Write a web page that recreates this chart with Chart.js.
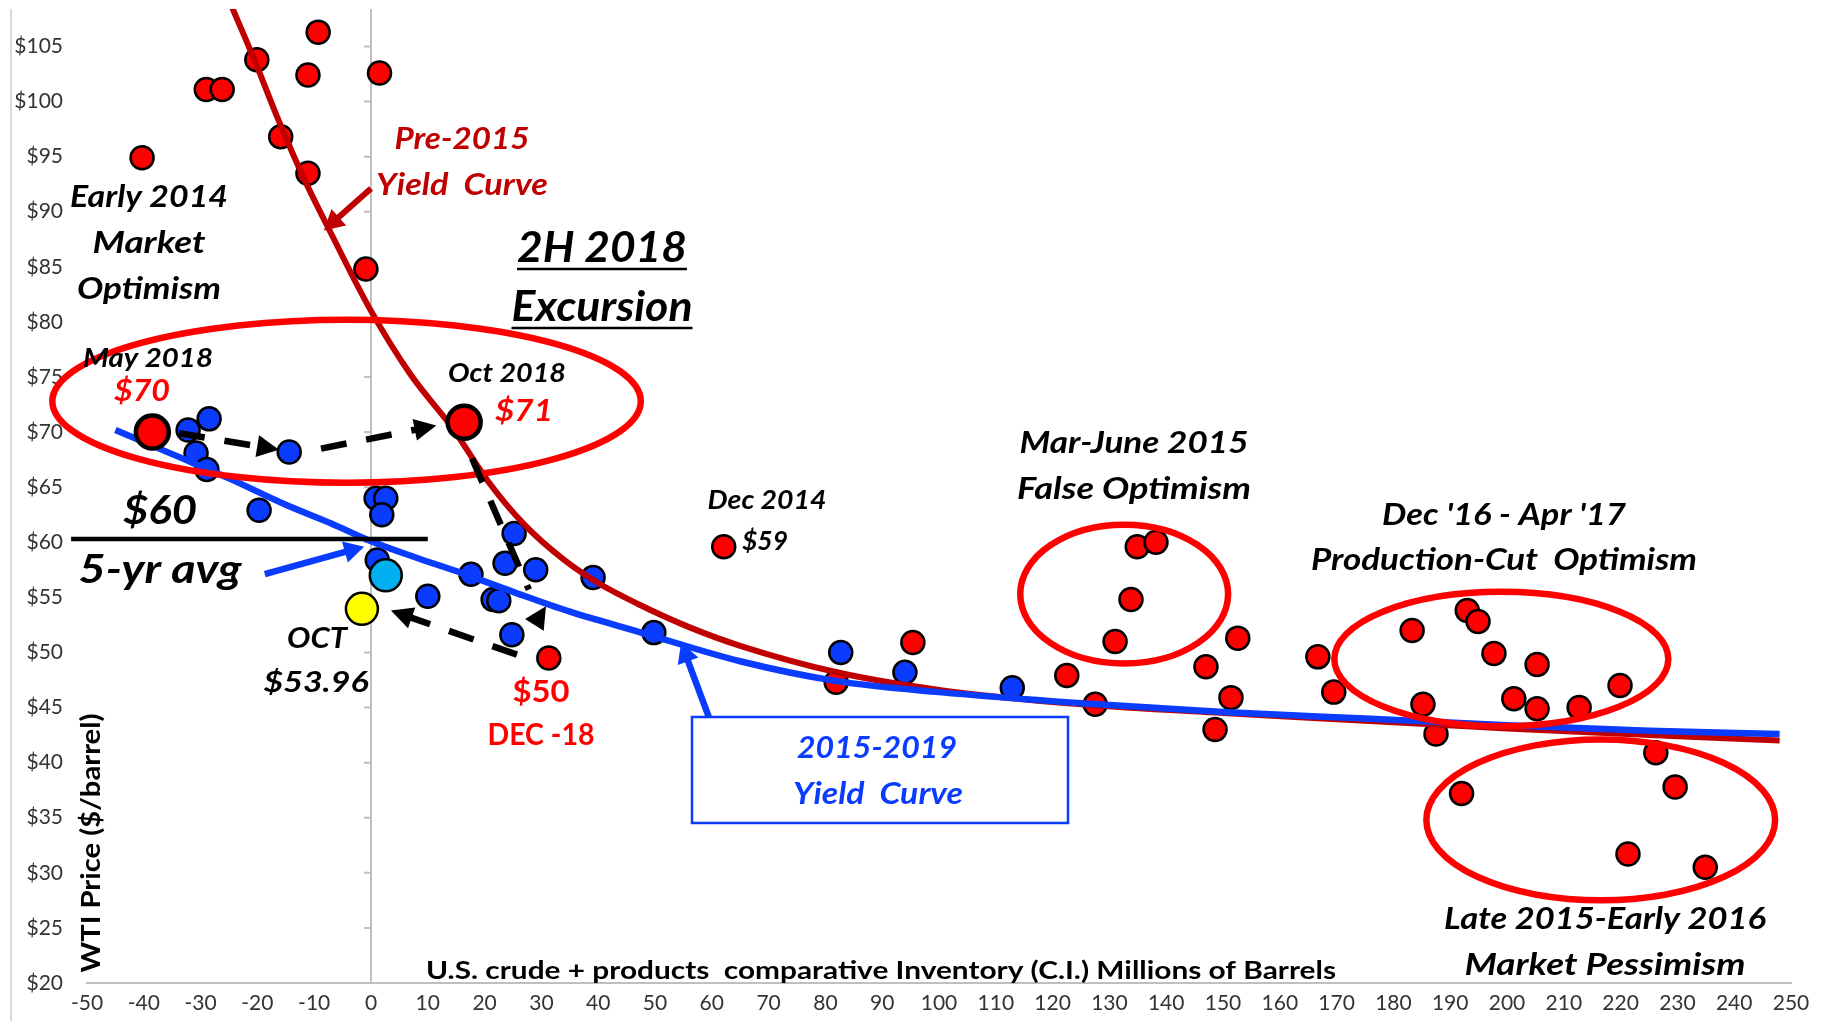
<!DOCTYPE html>
<html><head><meta charset="utf-8">
<script src="https://cdn.jsdelivr.net/npm/chart.js@4.4.1/dist/chart.umd.min.js"></script>
<style>html,body{margin:0;padding:0;background:#fff;overflow:hidden}#wrap{width:1822px;height:1021px;position:relative}</style>
</head><body><div id="wrap"><canvas id="c"></canvas></div>
<script>
// ---------- DATA ----------
const xTickVals = [-50,-40,-30,-20,-10,0,10,20,30,40,50,60,70,80,90,100,110,120,130,140,150,160,170,180,190,200,210,220,230,240,250];
const yTickVals = [20,25,30,35,40,45,50,55,60,65,70,75,80,85,90,95,100,105];

// red points (pre-2015 & 2015-2017 monthly)
const redX = [-40.3,-29,-26.2,-20.1,-15.9,-11.1,-9.3,-11.1,1.5,-0.9,31.3,62.1,81.9,95.4,122.5,127.5,131,133.8,134.9,138.2,147,148.6,151.4,152.6,166.7,169.5,183.3,185.2,187.5,193,194.9,197.7,201.2,205.3,205.3,212.7,219.9,192,226.2,229.6,221.3,234.9];
const redY = [94.9,101.1,101.1,103.8,96.8,102.4,106.3,93.5,102.6,84.8,49.5,59.6,47.3,50.9,47.9,45.3,51,54.8,59.6,60,48.7,43,45.9,51.3,49.6,46.4,52,45.3,42.6,53.8,52.8,49.9,45.8,48.9,44.9,45,47,37.2,40.9,37.8,31.7,30.5];

// blue points (2018-2019)
const blueX = [-32.2,-28.5,-30.8,-28.9,-14.4,-19.7,0.9,2.6,1.9,1.1,10,17.6,23.6,29,25.2,21.5,22.5,24.8,39.1,49.8,82.7,94,112.9];
const blueY = [70.2,71.2,68.1,66.6,68.2,62.9,64.0,64.0,62.5,58.4,55.1,57.1,58.1,57.5,60.8,54.8,54.7,51.6,56.8,51.8,50.0,48.2,46.8];

// highlighted points
const keyX = [-38.5,16.4];          // May 2018, Oct 2018
const keyY = [70.0,70.9];
const cyanX = [2.6];  const cyanY = [57.0];
const octX = [-1.6];  const octY = [53.96];

// yield curves
const pre2015X = [-24.5,-20.7,-16.2,-11.7,-7,0,7,14.3,20.8,27,34,40,47,56,65,82,100,125,150,175,200,225,248];
const pre2015Y = [108.6,104.0,98.2,92.9,88.0,81.0,75.2,70.4,65.4,61.6,58.4,56.3,54.4,52.3,50.6,48.2,46.6,45.3,44.5,43.8,43.1,42.5,42.0];
const yc1519X = [-45,-35,-25,-15,-7,0,8,16,25,35,47,65,82,100,125,150,175,200,225,248];
const yc1519Y = [70.2,68.0,65.8,63.4,61.7,60.1,58.6,57.2,55.5,53.7,51.9,49.2,47.4,46.4,45.4,44.6,44.0,43.4,42.9,42.6];

// ---------- HELPERS ----------
const pts = (xs, ys) => xs.map((x, i) => ({x, y: ys[i]}));
const FONT = 'Lato, "Open Sans", sans-serif';

function txt(ctx, s, cx, cy, size, w, color, o = {}) {
  const style = o.italic === false ? 'normal' : 'italic';
  ctx.save();
  ctx.font = `${style} bold ${size}px ${FONT}`;
  ctx.fillStyle = color;
  ctx.textAlign = 'center';
  ctx.textBaseline = 'middle';
  const nat = ctx.measureText(s).width;
  const sx = w / nat;
  ctx.translate(cx, cy);
  if (o.rot) ctx.rotate(o.rot);
  ctx.scale(sx, 1);
  ctx.fillText(s, 0, 0);
  ctx.restore();
  if (o.underline) {
    ctx.save();
    ctx.strokeStyle = color; ctx.lineWidth = 2.5;
    ctx.beginPath(); ctx.moveTo(cx - w / 2, cy + size * 0.5); ctx.lineTo(cx + w / 2, cy + size * 0.5); ctx.stroke();
    ctx.restore();
  }
}

function head(ctx, tx, ty, fx, fy, len, wid, color) {
  const ang = Math.atan2(ty - fy, tx - fx);
  ctx.save();
  ctx.fillStyle = color;
  ctx.translate(tx, ty); ctx.rotate(ang);
  ctx.beginPath(); ctx.moveTo(0, 0); ctx.lineTo(-len, -wid / 2); ctx.lineTo(-len, wid / 2); ctx.closePath(); ctx.fill();
  ctx.restore();
}

function arrow(ctx, fx, fy, tx, ty, color, lw, dash, hlen, hwid) {
  const ang = Math.atan2(ty - fy, tx - fx);
  const ex = hlen ? tx - Math.cos(ang) * hlen * 0.8 : tx;
  const ey = hlen ? ty - Math.sin(ang) * hlen * 0.8 : ty;
  ctx.save();
  ctx.strokeStyle = color; ctx.lineWidth = lw; ctx.setLineDash(dash || []);
  ctx.beginPath(); ctx.moveTo(fx, fy); ctx.lineTo(ex, ey); ctx.stroke();
  ctx.restore();
  if (hlen) head(ctx, tx, ty, fx, fy, hlen, hwid, color);
}

const annot = {
  id: 'annot',
  beforeDatasetsDraw(chart) {
    const {ctx, scales: {x, y}, chartArea: a} = chart;
    ctx.save();
    ctx.strokeStyle = '#D9D9D9'; ctx.lineWidth = 2;
    ctx.beginPath(); ctx.moveTo(11, a.top); ctx.lineTo(11, chart.height); ctx.stroke();
    const x0 = x.getPixelForValue(0);
    ctx.strokeStyle = '#BFBFBF'; ctx.lineWidth = 2;
    ctx.beginPath(); ctx.moveTo(x0, a.top); ctx.lineTo(x0, a.bottom);
    yTickVals.forEach(v => { const yy = y.getPixelForValue(v); ctx.moveTo(x0 - 7, yy); ctx.lineTo(x0, yy); });
    ctx.stroke();
    ctx.restore();
  },
  afterDatasetsDraw(chart) {
    const {ctx, scales: {x, y}} = chart;
    const X = v => x.getPixelForValue(v), Y = v => y.getPixelForValue(v);
    // ellipses
    const ell = (cx, cy, rx, ry) => {
      ctx.save(); ctx.strokeStyle = '#FF0000'; ctx.lineWidth = 6.5;
      ctx.beginPath();
      ctx.ellipse(X(cx), Y(cy), Math.abs(X(cx + rx) - X(cx)), Math.abs(Y(cy + ry) - Y(cy)), 0, 0, Math.PI * 2);
      ctx.stroke(); ctx.restore();
    };
    ell(-4.3, 72.8, 51.8, 7.4);
    ell(132.6, 55.3, 18.3, 6.3);
    ell(199.0, 49.4, 29.4, 6.1);
    ell(216.5, 34.8, 30.7, 7.3);

    // $60 five-year average line
    ctx.save(); ctx.strokeStyle = '#000'; ctx.lineWidth = 4.5;
    ctx.beginPath(); ctx.moveTo(X(-52.8), Y(60.3)); ctx.lineTo(X(10), Y(60.3)); ctx.stroke(); ctx.restore();

    // dashed black arrows
    const D = [26, 20];
    arrow(ctx, X(-33.8), Y(69.9), X(-16.2), Y(68.4), '#000', 6.5, D, 22, 22);
    arrow(ctx, X(-8.8), Y(68.5), X(11.5), Y(70.6), '#000', 6.5, D, 22, 22);
    arrow(ctx, X(17.8), Y(67.6), X(27.8), Y(55.7), '#000', 6.5, D, 0, 0);
    head(ctx, X(30.8), Y(54.2), X(29.0), Y(52.7), 22, 22, '#000');
    arrow(ctx, X(25.7), Y(49.8), X(3.5), Y(53.8), '#000', 6.5, D, 22, 22);

    // solid arrows
    arrow(ctx, X(-18.7), Y(57.1), X(-1.2), Y(59.6), '#0A3CFF', 6.5, null, 20, 22);
    arrow(ctx, X(59.5), Y(44.1), X(54.6), Y(50.9), '#0A3CFF', 6.5, null, 20, 22);
    arrow(ctx, X(0), Y(92.1), X(-8.3), Y(88.3), '#C00000', 6, null, 20, 22);

    // box
    ctx.save(); ctx.strokeStyle = '#0A3CFF'; ctx.lineWidth = 2.5;
    ctx.strokeRect(692, 717, 376, 106); ctx.restore();

    // texts
    const K = '#000', R = '#FF0000', DR = '#C00000', B = '#0A3CFF';
    txt(ctx, 'Early 2014', 149, 197, 30, 158, K);
    txt(ctx, 'Market', 149, 243, 30, 113, K);
    txt(ctx, 'Optimism', 149, 289, 30, 144, K);
    txt(ctx, 'May 2018', 148, 358, 27, 130, K);
    txt(ctx, '$70', 142, 391, 30, 56, R);
    txt(ctx, 'Oct 2018', 507, 373, 27, 118, K);
    txt(ctx, '$71', 524, 411, 30, 58, R);
    txt(ctx, 'Pre-2015', 462, 139, 30, 135, DR);
    txt(ctx, 'Yield  Curve', 462, 185, 30, 172, DR);
    txt(ctx, '2H 2018', 602, 248, 42, 170, K, {underline: true});
    txt(ctx, 'Excursion', 602, 307, 42, 181, K, {underline: true});
    txt(ctx, '$60', 160, 511, 40, 74, K);
    txt(ctx, '5-yr avg', 160, 570, 40, 163, K);
    txt(ctx, 'OCT', 317, 639, 28, 60, K);
    txt(ctx, '$53.96', 316, 683, 28, 105, K);
    txt(ctx, '$50', 541, 692, 31, 57, R, {italic: false});
    txt(ctx, 'DEC -18', 541, 735, 31, 107, R, {italic: false});
    txt(ctx, 'Dec 2014', 767, 501, 26, 119, K);
    txt(ctx, '$59', 765, 542, 26, 46, K);
    txt(ctx, 'Mar-June 2015', 1134, 443, 30, 229, K);
    txt(ctx, 'False Optimism', 1134, 489, 30, 234, K);
    txt(ctx, "Dec '16 - Apr '17", 1504, 515, 30, 244, K);
    txt(ctx, 'Production-Cut  Optimism', 1504, 560, 30, 386, K);
    txt(ctx, 'Late 2015-Early 2016', 1605, 919, 30, 322, K);
    txt(ctx, 'Market Pessimism', 1605, 965, 30, 281, K);
    txt(ctx, '2015-2019', 877, 748, 31, 160, B);
    txt(ctx, 'Yield  Curve', 878, 794, 31, 170, B);
    txt(ctx, 'U.S. crude + products  comparative Inventory (C.I.) Millions of Barrels', 881, 971, 25, 910, K, {italic: false});
    txt(ctx, 'WTI Price ($/barrel)', 92, 843, 26, 259, K, {italic: false, rot: -Math.PI / 2});
  }
};

const RED = '#FF0000', BLUE = '#0B3BFF';
new Chart(document.getElementById('c'), {
  type: 'scatter',
  data: {
    datasets: [
      {label: 'Oct', data: pts(octX, octY), backgroundColor: '#FFFF00', borderColor: '#000', borderWidth: 2.5, pointRadius: 16, order: 0},
      {label: 'Cyan', data: pts(cyanX, cyanY), backgroundColor: '#00B0F0', borderColor: '#000', borderWidth: 2.5, pointRadius: 16, order: 0},
      {label: 'Key', data: pts(keyX, keyY), backgroundColor: RED, borderColor: '#000', borderWidth: 4.5, pointRadius: 16.5, order: 0},
      {label: '2015-2019 Yield Curve', data: pts(yc1519X, yc1519Y), showLine: true, borderColor: '#0A3CFF', borderWidth: 6.5, pointRadius: 0, cubicInterpolationMode: 'monotone', fill: false, order: 1},
      {label: 'Pre-2015 Yield Curve', data: pts(pre2015X, pre2015Y), showLine: true, borderColor: '#C00000', borderWidth: 6, pointRadius: 0, cubicInterpolationMode: 'monotone', fill: false, order: 2},
      {label: 'Blue', data: pts(blueX, blueY), backgroundColor: BLUE, borderColor: '#000', borderWidth: 2.5, pointRadius: 11.5, order: 3},
      {label: 'Red', data: pts(redX, redY), backgroundColor: RED, borderColor: '#000', borderWidth: 2.5, pointRadius: 11.5, order: 4}
    ]
  },
  options: {
    responsive: true, maintainAspectRatio: false, animation: false,
    layout: {autoPadding: false, padding: {top: 9, right: 31, bottom: 0, left: 0}},
    plugins: {legend: {display: false}, tooltip: {enabled: false}},
    events: [],
    scales: {
      x: {
        type: 'linear', min: -50, max: 250, position: 'bottom',
        afterBuildTicks: s => { s.ticks = xTickVals.map(v => ({value: v})); },
        afterFit: s => { s.height = 38; s.paddingLeft = 0; s.paddingRight = 0; },
        grid: {display: false, drawTicks: false},
        border: {display: true, color: '#BFBFBF', width: 2},
        ticks: {color: '#333', font: {family: FONT, size: 21}, padding: 8, maxRotation: 0, autoSkip: false}
      },
      y: {
        type: 'linear', min: 20, max: 108.4,
        afterBuildTicks: s => { s.ticks = yTickVals.map(v => ({value: v})); },
        afterFit: s => { s.width = 87; s.paddingTop = 0; s.paddingBottom = 0; },
        grid: {display: false, drawTicks: false},
        border: {display: false},
        ticks: {color: '#333', font: {family: FONT, size: 21}, padding: 24, callback: v => '$' + v}
      }
    }
  },
  plugins: [annot]
});
</script></body></html>
